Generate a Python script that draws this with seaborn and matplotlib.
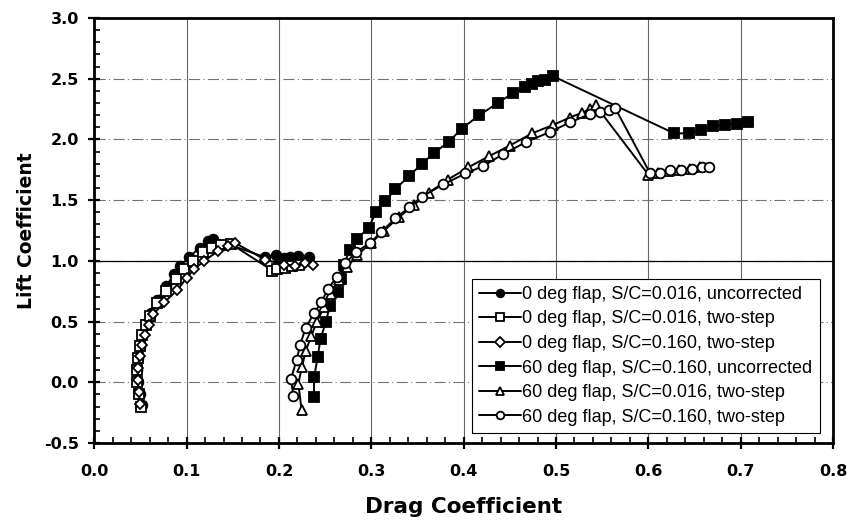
import matplotlib
matplotlib.use("Agg")
import matplotlib.pyplot as plt
from matplotlib.ticker import MultipleLocator
import seaborn as sns

# 0 deg flap, S/C=0.016, uncorrected
cd_0_016_unc = [0.052, 0.049, 0.047, 0.046, 0.047, 0.049, 0.052, 0.056, 0.061, 0.068, 0.078,
                0.086, 0.093, 0.103, 0.114, 0.123, 0.129, 0.185, 0.197, 0.205, 0.212, 0.221, 0.232]
cl_0_016_unc = [-0.19, -0.10, 0.00, 0.10, 0.20, 0.30, 0.40, 0.48, 0.57, 0.68, 0.79,
                0.89, 0.96, 1.03, 1.11, 1.16, 1.18, 1.03, 1.05, 1.02, 1.03, 1.04, 1.03]

# 0 deg flap, S/C=0.016, two-step
cd_0_016_two = [0.051, 0.048, 0.046, 0.046, 0.047, 0.049, 0.052, 0.056, 0.060, 0.068, 0.078,
                0.088, 0.097, 0.107, 0.118, 0.128, 0.137, 0.148, 0.193, 0.198, 0.206, 0.214, 0.222]
cl_0_016_two = [-0.20, -0.10, 0.00, 0.10, 0.20, 0.30, 0.39, 0.47, 0.55, 0.65, 0.75,
                0.85, 0.93, 1.00, 1.07, 1.11, 1.13, 1.14, 0.92, 0.93, 0.94, 0.96, 0.97]

# 0 deg flap, S/C=0.160, two-step
cd_0_160_two = [0.050, 0.048, 0.047, 0.047, 0.049, 0.052, 0.055, 0.059, 0.064, 0.076, 0.090,
                0.100, 0.108, 0.119, 0.134, 0.145, 0.152, 0.185, 0.205, 0.217, 0.228, 0.237]
cl_0_160_two = [-0.18, -0.08, 0.02, 0.12, 0.22, 0.31, 0.39, 0.47, 0.56, 0.66, 0.76,
                0.86, 0.93, 1.00, 1.08, 1.12, 1.15, 1.01, 0.97, 0.96, 0.98, 0.97]

# 60 deg flap, S/C=0.160, uncorrected
cd_60_160_unc = [0.238, 0.238, 0.242, 0.245, 0.251, 0.255, 0.264, 0.267, 0.270, 0.277, 0.284,
                 0.297, 0.305, 0.315, 0.326, 0.341, 0.355, 0.368, 0.384, 0.398, 0.417, 0.437,
                 0.453, 0.466, 0.474, 0.481, 0.488, 0.497, 0.628, 0.644, 0.657, 0.670, 0.683,
                 0.696, 0.708]
cl_60_160_unc = [-0.12, 0.04, 0.21, 0.36, 0.50, 0.63, 0.74, 0.85, 0.97, 1.09, 1.18,
                 1.27, 1.40, 1.49, 1.59, 1.70, 1.80, 1.89, 1.98, 2.09, 2.20, 2.30,
                 2.38, 2.43, 2.46, 2.48, 2.49, 2.52, 2.05, 2.05, 2.08, 2.11, 2.12,
                 2.13, 2.14]

# 60 deg flap, S/C=0.016, two-step
cd_60_016_two = [0.2245, 0.221, 0.225, 0.229, 0.235, 0.241, 0.249, 0.256, 0.265, 0.274, 0.285,
                 0.300, 0.314, 0.330, 0.346, 0.362, 0.383, 0.405, 0.427, 0.450, 0.474, 0.497,
                 0.515, 0.528, 0.537, 0.543, 0.600, 0.611, 0.622, 0.633, 0.645, 0.656]
cl_60_016_two = [-0.23, -0.01, 0.13, 0.26, 0.38, 0.50, 0.62, 0.73, 0.84, 0.95, 1.05,
                 1.15, 1.25, 1.36, 1.46, 1.56, 1.67, 1.77, 1.86, 1.95, 2.05, 2.12,
                 2.18, 2.22, 2.25, 2.28, 1.71, 1.72, 1.74, 1.75, 1.76, 1.77]

# 60 deg flap, S/C=0.160, two-step
cd_60_160_two = [0.2155, 0.213, 0.219, 0.223, 0.229, 0.238, 0.246, 0.253, 0.263, 0.272, 0.283,
                 0.299, 0.311, 0.326, 0.341, 0.355, 0.378, 0.402, 0.421, 0.443, 0.468, 0.493,
                 0.515, 0.537, 0.548, 0.557, 0.564, 0.602, 0.613, 0.624, 0.635, 0.647, 0.658,
                 0.666]
cl_60_160_two = [-0.11, 0.03, 0.18, 0.31, 0.45, 0.57, 0.66, 0.77, 0.87, 0.98, 1.07,
                 1.15, 1.24, 1.35, 1.44, 1.53, 1.63, 1.72, 1.78, 1.88, 1.98, 2.06,
                 2.14, 2.21, 2.23, 2.24, 2.26, 1.72, 1.72, 1.75, 1.75, 1.76, 1.77,
                 1.77]

series = [
    ("0 deg flap, S/C=0.016, uncorrected", cd_0_016_unc, cl_0_016_unc, "o", "black"),
    ("0 deg flap, S/C=0.016, two-step", cd_0_016_two, cl_0_016_two, "s", "white"),
    ("0 deg flap, S/C=0.160, two-step", cd_0_160_two, cl_0_160_two, "D", "white"),
    ("60 deg flap, S/C=0.160, uncorrected", cd_60_160_unc, cl_60_160_unc, "s", "black"),
    ("60 deg flap, S/C=0.016, two-step", cd_60_016_two, cl_60_016_two, "^", "white"),
    ("60 deg flap, S/C=0.160, two-step", cd_60_160_two, cl_60_160_two, "o", "white"),
]
msizes = {"o": 7, "s": 6.5, "D": 5, "^": 7}

sns.set_style("ticks")
plt.rcParams["font.family"] = ["Liberation Sans", "DejaVu Sans"]
plt.rcParams["text.color"] = "black"
plt.rcParams["axes.labelcolor"] = "black"
plt.rcParams["xtick.color"] = "black"
plt.rcParams["ytick.color"] = "black"

fig = plt.figure(figsize=(8.47, 5.22), dpi=100)
ax = fig.add_axes([0.1113, 0.1513, 0.8722, 0.8142])

for label, cd, cl, mk, face in series:
    sns.lineplot(x=cd, y=cl, ax=ax, sort=False, estimator=None, color="black",
                 linewidth=1.4, marker=mk, markersize=msizes[mk],
                 markerfacecolor=face, markeredgecolor="black", markeredgewidth=1.3,
                 label=label)

ax.set_xlim(0, 0.8)
ax.set_ylim(-0.5, 3.0)
ax.xaxis.set_major_locator(MultipleLocator(0.1))
ax.xaxis.set_minor_locator(MultipleLocator(0.02))
ax.yaxis.set_major_locator(MultipleLocator(0.5))
ax.yaxis.set_minor_locator(MultipleLocator(0.1))
ax.grid(True, axis="x", which="major", color="0.4", linewidth=0.8, linestyle="-")
ax.grid(True, axis="y", which="major", color="0.45", linewidth=0.8,
        linestyle=(0, (10, 3, 1, 3)))
ax.axhline(1.0, color="black", linewidth=0.9, zorder=1)
ax.set_axisbelow(True)

for s in ax.spines.values():
    s.set_linewidth(2.0)
    s.set_color("black")
ax.tick_params(which="major", direction="inout", length=8, width=1.6)
ax.tick_params(which="minor", direction="in", length=4, width=1.2)
ax.tick_params(axis="x", which="major", pad=11)
ax.tick_params(axis="y", which="major", pad=7)
xt = [round(v, 1) for v in ax.get_xticks()]
yt = [round(v, 1) for v in ax.get_yticks()]
ax.set_xticks(xt)
ax.set_yticks(yt)
ax.set_xticklabels([f"{v:.1f}" for v in xt], fontweight="bold",
                   fontfamily="DejaVu Sans", fontsize=11.5)
ax.set_yticklabels([f"{v:.1f}" for v in yt], fontweight="bold",
                   fontfamily="DejaVu Sans", fontsize=11.5)
ax.set_xlim(0, 0.8)
ax.set_ylim(-0.5, 3.0)

ax.set_xlabel("Drag Coefficient", fontsize=15.5, fontweight="bold",
              fontfamily="DejaVu Sans", labelpad=13)
ax.set_ylabel("Lift Coefficient", fontsize=13.5, fontweight="bold",
              fontfamily="DejaVu Sans", labelpad=6)

leg = ax.legend(loc="lower left", bbox_to_anchor=(0.511, 0.0235), fontsize=13,
                frameon=True, fancybox=False, framealpha=1, edgecolor="black",
                handlelength=2.3, handletextpad=0.1, labelspacing=0.42,
                borderpad=0.4, borderaxespad=0)
leg.get_frame().set_linewidth(0.8)
for h in leg.legend_handles:
    h.set_markersize(5.5)

fig.savefig("out.png", dpi=100)
